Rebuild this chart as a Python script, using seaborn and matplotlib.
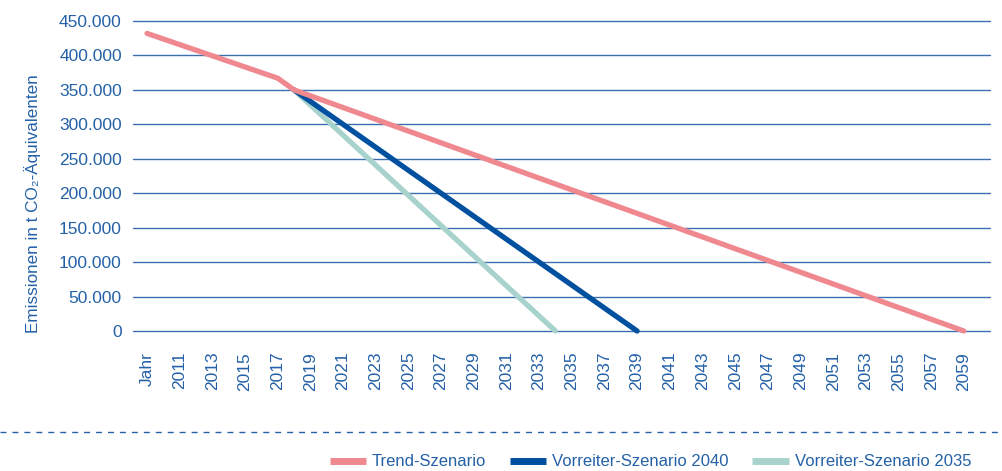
import matplotlib
matplotlib.use("Agg")
import matplotlib.pyplot as plt
from matplotlib.lines import Line2D
from matplotlib.ticker import FuncFormatter
import seaborn as sns
import pandas as pd

# Category axis as in the reference (first category is the header "Jahr")
categories = ["Jahr"] + [str(y) for y in range(2010, 2060)]

# Series: key points (category label -> emissions in t CO2-eq)
trend_cats = ["Jahr", "2017", "2018", "2059"]
trend_vals = [432000, 367000, 350000, 0]

v2040_cats = ["2018", "2039"]
v2040_vals = [350000, 0]

v2035_cats = ["2018", "2034"]
v2035_vals = [350000, 0]

series_names = ["Trend-Szenario", "Vorreiter-Szenario 2040", "Vorreiter-Szenario 2035"]
colors = ["#f08890", "#0050a0", "#a8d3cc"]

y_ticks = [0, 50000, 100000, 150000, 200000, 250000, 300000, 350000, 400000, 450000]

rows = []
for name, cats, vals in zip(series_names,
                            [trend_cats, v2040_cats, v2035_cats],
                            [trend_vals, v2040_vals, v2035_vals]):
    for c, v in zip(cats, vals):
        rows.append({"pos": categories.index(c), "value": v, "Szenario": name})
df = pd.DataFrame(rows)

sns.set_theme(style="white")
plt.rcParams["font.family"] = ["Liberation Sans", "DejaVu Sans"]

BLUE = "#2461a8"

fig = plt.figure(figsize=(10.02, 4.71), dpi=100)
ax = fig.add_axes([0.1327, 0.2972, 0.988 - 0.1327, 0.9554 - 0.2972])

for name, col in [(series_names[2], colors[2]), (series_names[1], colors[1]), (series_names[0], colors[0])]:
    sub = df[df["Szenario"] == name]
    sns.lineplot(data=sub, x="pos", y="value", color=col, linewidth=3.8,
                 estimator=None, sort=True, ax=ax, legend=False,
                 solid_capstyle="round", clip_on=False, zorder=3)

ax.set_ylim(0, 450000)
ax.set_xlim(-0.86, 51.6)
ax.set_yticks(y_ticks)
ax.yaxis.set_major_formatter(FuncFormatter(lambda v, p: f"{v:,.0f}".replace(",", ".")))
ax.set_xticks(range(0, len(categories), 2))
ax.set_xticklabels(categories[::2], rotation=90, ha="center", va="top")
ax.tick_params(axis="x", length=0, pad=15, labelsize=12.5, labelcolor=BLUE)
ax.tick_params(axis="y", length=0, pad=8, labelsize=12.5, labelcolor=BLUE)
ax.grid(axis="y", color=BLUE, linewidth=1.0, alpha=0.9, zorder=0)
ax.grid(axis="x", visible=False)
for gl in ax.get_ygridlines():
    gl.set_clip_on(False)
for s in ax.spines.values():
    s.set_visible(False)
ax.set_xlabel("")
ax.set_ylabel("")

fig.text(33 / 1002, 1 - 204 / 471, "Emissionen in t CO\u2082-\u00c4quivalenten",
         rotation=90, ha="center", va="center", fontsize=12.3, color=BLUE)

# dashed separator
fig.add_artist(Line2D([0, 1], [1 - 432 / 471, 1 - 432 / 471], transform=fig.transFigure,
                      color=BLUE, linewidth=1.0, linestyle=(0, (4.3, 4.3))))

handles = [Line2D([0], [0], color=c, linewidth=5, solid_capstyle="butt") for c in colors]
leg = fig.legend(handles, series_names, loc="center", bbox_to_anchor=(0.649, 1 - 462 / 471),
                 ncol=3, frameon=False, fontsize=12, handlelength=2.2, handletextpad=0.35,
                 columnspacing=1.4, borderpad=0, borderaxespad=0)
for t in leg.get_texts():
    t.set_color(BLUE)

fig.savefig("out.png", dpi=100)
